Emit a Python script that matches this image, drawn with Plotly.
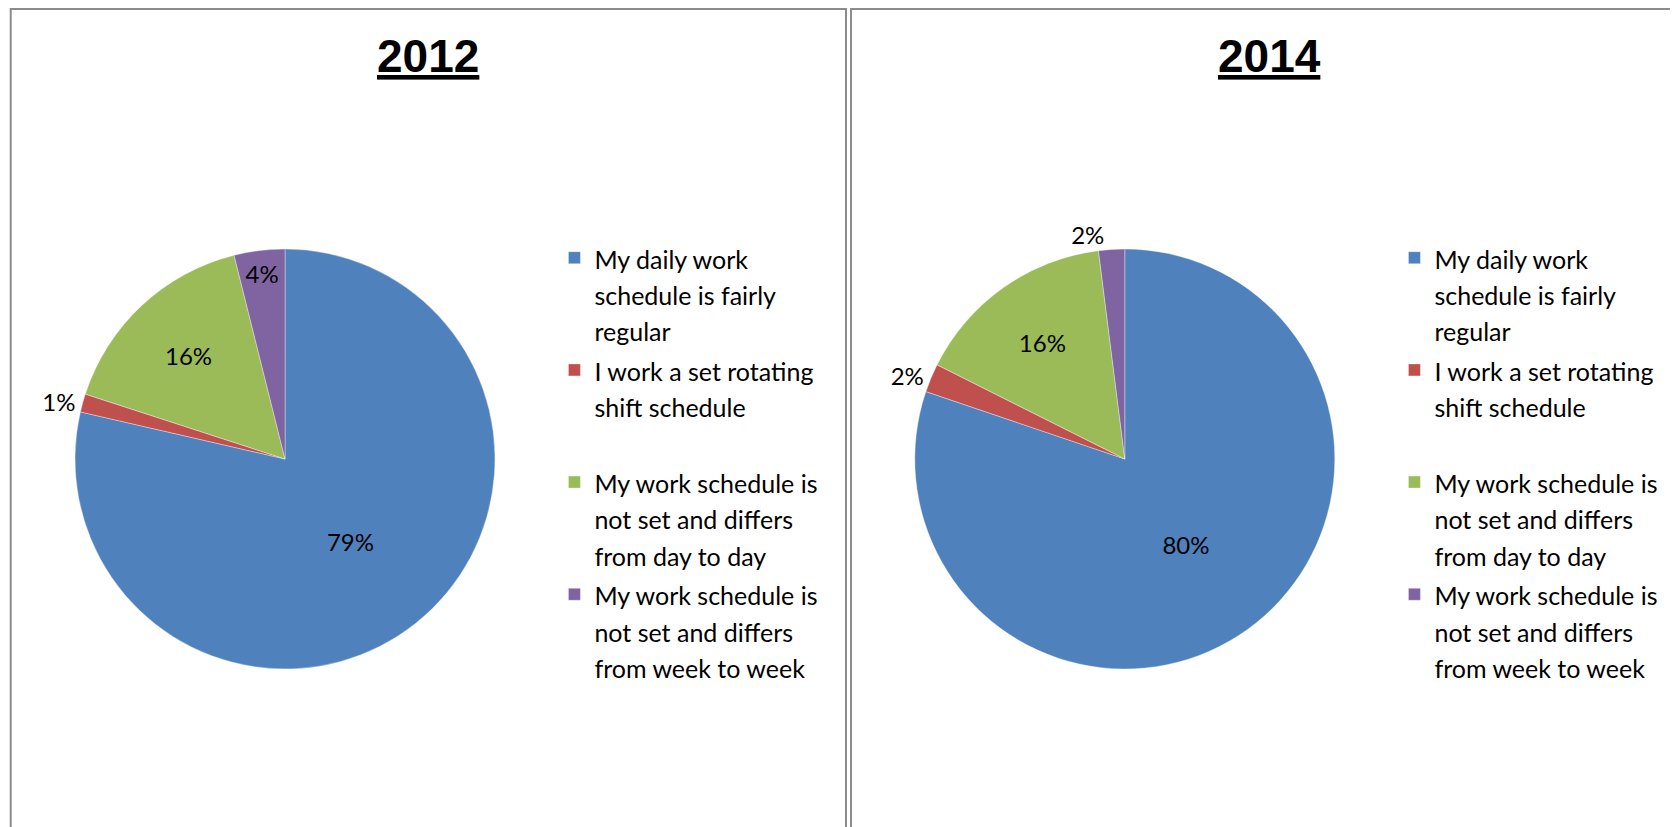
import plotly.graph_objects as go

# chart data
category_lines = [
    ["My daily work", "schedule is fairly", "regular"],
    ["I work a set rotating", "shift schedule"],
    ["My work schedule is", "not set and differs", "from day to day"],
    ["My work schedule is", "not set and differs", "from week to week"],
]
years = ["2012", "2014"]
values_2012 = [78.6, 1.4, 16.1, 3.9]
values_2014 = [80.2, 2.2, 15.6, 2.0]
colors = ["#4F81BD", "#C0504D", "#9BBB59", "#8064A2"]

FONT = "Lato, Calibri, sans-serif"
LEG_TEXT = 25      # visible legend text size
LEG_LINE = 28      # legend font size -> controls line / item spacing

# the page puts the figure 8px in from the window corner
W, H = 1670, 819


def legend_label(lines, pad):
    lines = lines + ["&nbsp;"] * (3 - len(lines))
    spans = ["<span style='font-size:%dpx'>%s</span>" % (LEG_TEXT, t) for t in lines]
    return "<br>".join(spans) + pad


def positions(vals):
    # small slices get their label outside, like the original
    return ["inside" if v >= 3 else "outside" for v in vals]


fig = go.Figure()

pie_x = [[0.04014, 0.29162], [0.54299, 0.79449]]
for i, (year, vals) in enumerate(zip(years, [values_2012, values_2014])):
    labels = [legend_label(c, " " * i) for c in category_lines]
    fig.add_trace(go.Pie(
        labels=labels,
        values=vals,
        name=year,
        sort=False,
        direction="clockwise",
        rotation=0,
        marker=dict(colors=colors, line=dict(color="rgba(255,255,255,0.6)", width=0.6)),
        texttemplate="%{percent:.0%}",
        textposition=positions(vals),
        insidetextorientation="horizontal",
        textfont=dict(family=FONT, size=24, color="black"),
        outsidetextfont=dict(family=FONT, size=24, color="black"),
        domain=dict(x=pie_x[i], y=[0.19292, 0.70574]),
        legend="legend" if i == 0 else "legend2",
        hovertemplate=year + ": %{percent:.0%}<extra></extra>",
    ))

legend_style = dict(
    font=dict(family=FONT, size=LEG_LINE, color="black"),
    valign="top",
    bgcolor="rgba(0,0,0,0)",
    xanchor="left",
    yanchor="top",
    y=0.7253,
    itemclick=False,
    itemdoubleclick=False,
)

# panel frames
shapes = []
for x0, x1 in [(0.00162, 0.5018), (0.5048, 1.02)]:
    shapes.append(dict(type="rect", xref="paper", yref="paper",
                       x0=x0, x1=x1, y0=-0.05, y1=0.9988,
                       line=dict(color="#8c8c8c", width=2), layer="below"))

annotations = []
for i, year in enumerate(years):
    annotations.append(dict(
        text="<b><u>" + year + "</u></b>",
        x=[0.2515, 0.7551][i], y=0.941, xref="paper", yref="paper",
        xanchor="center", yanchor="middle", showarrow=False,
        font=dict(family="Liberation Sans, Arial, sans-serif", size=46, color="black"),
    ))

fig.update_layout(
    width=W,
    height=H,
    margin=dict(l=0, r=0, t=0, b=0),
    paper_bgcolor="white",
    plot_bgcolor="white",
    showlegend=True,
    legend=dict(legend_style, x=0.3272),
    legend2=dict(legend_style, x=0.8302),
    shapes=shapes,
    annotations=annotations,
)

fig.write_html("out.html")
